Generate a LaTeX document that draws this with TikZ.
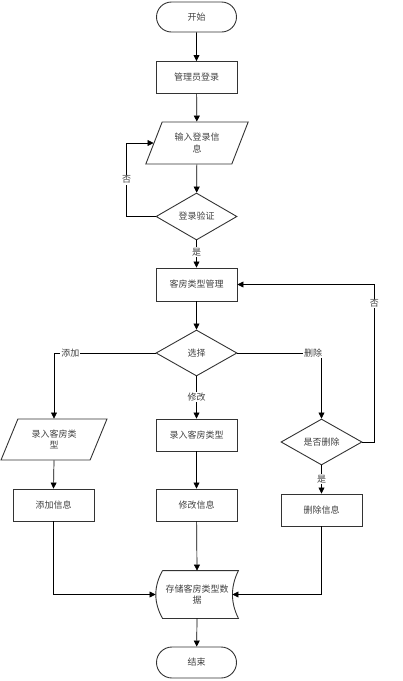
\documentclass[tikz,border=0pt]{standalone}
\usepackage{fontspec}
\setmainfont{Noto Sans CJK SC}
\usetikzlibrary{arrows.meta,shapes.geometric,shapes.misc}
\tikzset{
  base/.style={draw=black!80, line width=0.9pt, text=black!75, font=\fontsize{9}{11.5}\selectfont, align=center, inner sep=1pt},
  term/.style={base, rounded rectangle, minimum width=82pt, minimum height=30pt},
  proc/.style={base, rectangle, minimum width=81pt, minimum height=32pt},
  io/.style={base, trapezium, trapezium left angle=63, trapezium right angle=117, trapezium stretches=true, minimum width=103pt, minimum height=42pt},
  dec/.style={base, diamond, minimum width=81pt, minimum height=47pt, inner sep=0pt},
  arr/.style={draw=black, line width=0.7pt, -{Triangle[length=6pt,width=6pt]}},
  lbl/.style={fill=white, text=black!75, font=\fontsize{9}{11}\selectfont, inner sep=1pt},
}
\begin{document}
\begin{tikzpicture}[x=1pt,y=-1pt]
\useasboundingbox (0,0) rectangle (403,681);
\node[term] (start) at (196.5,17) {开始};
\node[proc] (admin) at (196.5,77.5) {管理员登录};
\node[io] (login) at (197,143) {输入登录信\\息};
\node[dec] (verify) at (196.5,216.5) {登录验证};
\node[proc, minimum height=33pt] (mgmt) at (196.5,284.5) {客房类型管理};
\node[dec, minimum height=46pt] (sel) at (196.5,353) {选择};
\node[io, minimum width=106pt, minimum height=41pt] (lin) at (54,439.5) {录入客房类\\型};
\node[proc] (rin) at (196.5,435) {录入客房类型};
\node[dec, minimum height=46pt] (chk) at (321.5,442) {是否删除};
\node[proc] (add) at (53.5,505) {添加信息};
\node[proc] (mod) at (196.5,505) {修改信息};
\node[proc] (del) at (321.5,510) {删除信息};
\node[base, draw=none, rectangle, minimum width=82pt, minimum height=47pt] (store) at (197,594.5) {存储客房类型数\\据};
\draw[draw=black!80, line width=0.9pt]
  ([xshift=7pt]store.north west) -- (store.north east)
  .. controls ([xshift=-8pt,yshift=-16pt]store.north east) and ([xshift=-8pt,yshift=16pt]store.south east) .. (store.south east)
  -- ([xshift=7pt]store.south west)
  .. controls ([xshift=-2pt,yshift=16pt]store.south west) and ([xshift=-2pt,yshift=-16pt]store.north west) .. ([xshift=7pt]store.north west);
\coordinate (storeE) at ([xshift=-6pt]store.east);
\node[term, minimum height=31pt] (end) at (196.5,662.5) {结束};

\draw[arr] (start) -- (admin);
\draw[arr] (admin) -- (login);
\draw[arr] (login) -- (verify);
\draw[arr] (verify.west) -- ++(-29,0) |- node[lbl, pos=0.25]{否} (login);
\draw[arr] (verify) -- node[lbl, pos=0.42]{是} (mgmt);
\draw[arr] (mgmt) -- (sel);
\draw[arr] (sel.west) -| node[lbl, pos=0.42]{添加} (lin.north);
\draw[arr] (sel.south) -- node[lbl, pos=0.49]{修改} (rin.north);
\draw[arr] (sel.east) -| node[lbl, pos=0.45]{删除} (chk.north);
\draw[arr] (chk.east) -| node[lbl, pos=0.94]{否} ([xshift=137pt]mgmt.east) -- (mgmt.east);
\draw[arr] (chk.south) -- node[lbl, pos=0.48]{是} (del.north);
\draw[arr] (lin.south) -- (add.north);
\draw[arr] (rin) -- (mod);
\draw[arr] (add.south) |- (store.west);
\draw[arr] (mod) -- (store.north);
\draw[arr] (del.south) |- (storeE);
\draw[arr] (store.south) -- (end);
\end{tikzpicture}
\end{document}
